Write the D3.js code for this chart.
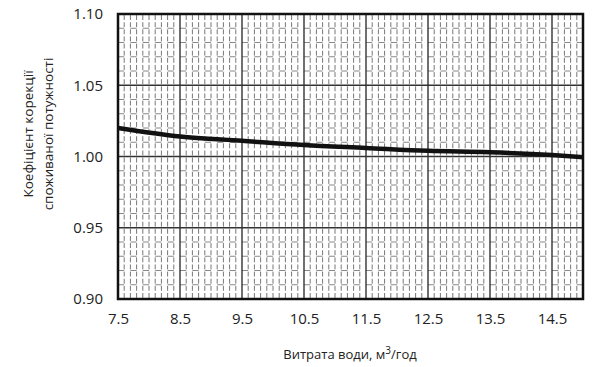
<!DOCTYPE html>
<html><head><meta charset="utf-8">
<script src="https://cdn.jsdelivr.net/npm/d3@7"></script>
<style>body{margin:0;background:#fff}svg{display:block}text{font-family:"Open Sans","Noto Sans",sans-serif}</style>
</head><body><svg id="c" width="604" height="367"></svg>
<script>
const flowRates = [7.5, 8.5, 9.5, 10.5, 11.5, 12.5, 13.5, 14.5, 15];
const correction = [1.020, 1.014, 1.011, 1.008, 1.006, 1.004, 1.003, 1.001, 0.9995];
const xTicks = [7.5, 8.5, 9.5, 10.5, 11.5, 12.5, 13.5, 14.5];
const yTicks = [0.90, 0.95, 1.00, 1.05, 1.10];

const L = 118, R = 583, T = 14, B = 299;
const svg = d3.select("#c");
const x = d3.scaleLinear().domain([7.5, 15]).range([L, R]);
const y = d3.scaleLinear().domain([0.90, 1.10]).range([B, T]);
const rowH = (B - T) / 40, colW = (x(8.5) - x(7.5)) / 10;

const g = svg.append("g");
// minor vertical (dashed, gaps at each 0.005 row)
const minorX = d3.range(1, 75).filter(i => i % 10 !== 0).map(i => 7.5 + i * 0.1);
g.selectAll(".mx").data(minorX).join("line")
  .attr("x1", d => x(d)).attr("x2", d => x(d)).attr("y1", T).attr("y2", B)
  .attr("stroke", "#777").attr("stroke-width", 1)
  .attr("stroke-dasharray", `${rowH - 2.2},2.2`).attr("stroke-dashoffset", rowH - 1.1);
// minor horizontal (every 0.01, partial dashes)
const minorY = d3.range(1, 20).filter(i => i % 5 !== 0).map(i => 0.90 + i * 0.01);
g.selectAll(".my").data(minorY).join("line")
  .attr("x1", L).attr("x2", R).attr("y1", d => y(d)).attr("y2", d => y(d))
  .attr("stroke", "#888").attr("stroke-width", 1)
  .attr("stroke-dasharray", `${colW},${colW}`).attr("stroke-dashoffset", 0);
// major
g.selectAll(".Mx").data(xTicks.slice(1)).join("line")
  .attr("x1", d => x(d)).attr("x2", d => x(d)).attr("y1", T).attr("y2", B)
  .attr("stroke", "#333").attr("stroke-width", 1.4);
g.selectAll(".My").data(yTicks.slice(1, -1)).join("line")
  .attr("x1", L).attr("x2", R).attr("y1", d => y(d)).attr("y2", d => y(d))
  .attr("stroke", "#333").attr("stroke-width", 1.4);

// curve
const line = d3.line().x((d, i) => x(flowRates[i])).y(d => y(d)).curve(d3.curveMonotoneX);
svg.append("path").attr("d", line(correction)).attr("fill", "none")
  .attr("stroke", "#111").attr("stroke-width", 4.5);

// border
svg.append("rect").attr("x", L).attr("y", T).attr("width", R - L).attr("height", B - T)
  .attr("fill", "none").attr("stroke", "#111").attr("stroke-width", 2.5);

// axes
const xa = svg.append("g").attr("transform", `translate(0,${B})`)
  .call(d3.axisBottom(x).tickValues(xTicks).tickSize(0).tickPadding(14).tickFormat(d3.format(".1f")));
xa.select(".domain").remove();
xa.selectAll("text").attr("font-size", 15).attr("fill", "#222").attr("font-family", '"Open Sans",sans-serif');
const ya = svg.append("g").attr("transform", `translate(${L},0)`)
  .call(d3.axisLeft(y).tickValues(yTicks).tickSize(0).tickPadding(15).tickFormat(d3.format(".2f")));
ya.select(".domain").remove();
ya.selectAll("text").attr("font-size", 15).attr("fill", "#222").attr("font-family", '"Open Sans",sans-serif');

// titles
const xt = svg.append("text").attr("x", 350).attr("y", 359).attr("text-anchor", "middle")
  .attr("font-size", 13).attr("fill", "#222");
xt.append("tspan").text("Витрата води, м");
xt.append("tspan").text("3").attr("dy", -5).attr("font-size", 10);
xt.append("tspan").text("/год").attr("dy", 5);

const yt = svg.append("text").attr("transform", `translate(0,134) rotate(-90)`)
  .attr("text-anchor", "middle").attr("font-size", 13.5).attr("fill", "#222");
yt.append("tspan").attr("x", 0).attr("y", 33).text("Коефіцієнт корекції");
yt.append("tspan").attr("x", 0).attr("y", 53).text("споживаної потужності");
</script></body></html>
